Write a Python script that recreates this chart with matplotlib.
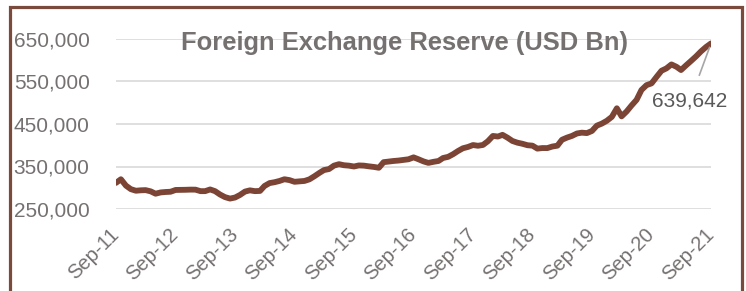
import numpy as np
import pandas as pd
import matplotlib.pyplot as plt
from matplotlib.patches import Rectangle

# Forex reserve, monthly, Sep-11 .. Sep-21 (USD mn)
reserve = [
    311500, 320000, 305000, 296700, 293000, 294000, 294400, 291500, 286000, 289000, 290000, 290600,  # Sep-11 .. Aug-12
    294800, 295000, 295200, 295600, 295500, 292000, 292000, 296000, 292000, 284000, 278000, 274500,  # Sep-12 .. Aug-13
    277000, 283000, 291000, 293900, 292000, 292500, 304200, 311000, 313000, 316000, 320000, 318000,  # Sep-13 .. Aug-14
    314000, 315000, 316000, 319700, 327000, 335000, 341600, 344000, 352000, 355500, 353000, 352000,  # Sep-14 .. Aug-15
    350000, 352500, 352000, 350400, 349000, 347000, 360200, 361600, 363000, 364000, 365500, 367000,  # Sep-15 .. Aug-16
    371500, 367000, 362000, 358500, 361000, 363000, 370000, 372700, 378800, 386500, 392900, 396000,  # Sep-16 .. Aug-17
    400500, 398800, 400700, 409400, 421900, 420500, 424500, 417700, 410000, 406000, 403500, 400100,  # Sep-17 .. Aug-18
    399000, 392100, 393400, 393300, 397000, 399000, 412900, 418000, 421900, 427700, 429600, 428600,  # Sep-18 .. Aug-19
    433600, 446100, 451000, 457500, 466700, 487000, 468000, 479500, 493500, 506800, 530000, 541400,  # Sep-19 .. Aug-20
    545600, 560500, 575300, 580800, 590200, 584600, 577000, 588000, 598200, 609000, 620600, 631000,  # Sep-20 .. Aug-21
    639642,                                                                                          # Sep-21
]
dates = pd.date_range("2011-09-01", periods=len(reserve), freq="MS")
tick_dates = pd.date_range("2011-09-01", "2021-09-01", freq="12MS")
tick_labels = [d.strftime("%b-%y") for d in tick_dates]
y_ticks = [250000, 350000, 450000, 550000, 650000]

LINE = "#7B4434"
FRAME = "#7A4A3C"
TXT = "#767171"

plt.rcParams['font.family'] = ['Liberation Sans', 'DejaVu Sans']

W, H = 746, 291
fig = plt.figure(figsize=(W / 100, H / 100), dpi=100)
ax = fig.add_axes([116 / W, (H - 209) / H, (711 - 116) / W, (209 - 39) / H])

for y in y_ticks:
    ax.axhline(y, color="#D9D9D9", linewidth=1.2, zorder=1)

ax.plot(dates, reserve, color=LINE, linewidth=4.2, solid_capstyle="round",
        solid_joinstyle="round", zorder=3)

ax.set_xlim(dates[0], dates[-1])
ax.set_ylim(250000, 650000)
ax.set_yticks(y_ticks)
ax.set_yticklabels([f"{v:,}" for v in y_ticks], fontsize=15, color=TXT)
ax.set_xticks(tick_dates)
ax.set_xticklabels(tick_labels, fontsize=14.5, color=TXT, rotation=45,
                   ha="right", va="center", rotation_mode="anchor")
ax.tick_params(axis="y", length=0, pad=19)
ax.tick_params(axis="x", length=0, pad=16)
for s in ax.spines.values():
    s.set_visible(False)

# title sits on top of the 650,000 grid line
ax.text(0.485, 0.975, "Foreign Exchange Reserve (USD Bn)", transform=ax.transAxes,
        ha="center", va="center", fontsize=18.4, fontweight="bold", color=TXT, zorder=4)

# last value label with leader line
ax.annotate(f"{reserve[-1]:,}", xy=(dates[-1], reserve[-1]),
            xytext=(pd.Timestamp("2021-04-25"), 505000),
            ha="center", va="center", fontsize=15, color="#595959",
            arrowprops=dict(arrowstyle="-", color="#A6A6A6", linewidth=1.2,
                            shrinkA=10, shrinkB=3), zorder=5)

# chart border (bottom edge runs off the image)
fig.patches.append(Rectangle((9.5 / W, -0.1), (742 - 9.5) / W, 1.1 - 6.5 / H,
                             transform=fig.transFigure, fill=False,
                             edgecolor=FRAME, linewidth=2.3))

fig.savefig("out.png", dpi=100)
